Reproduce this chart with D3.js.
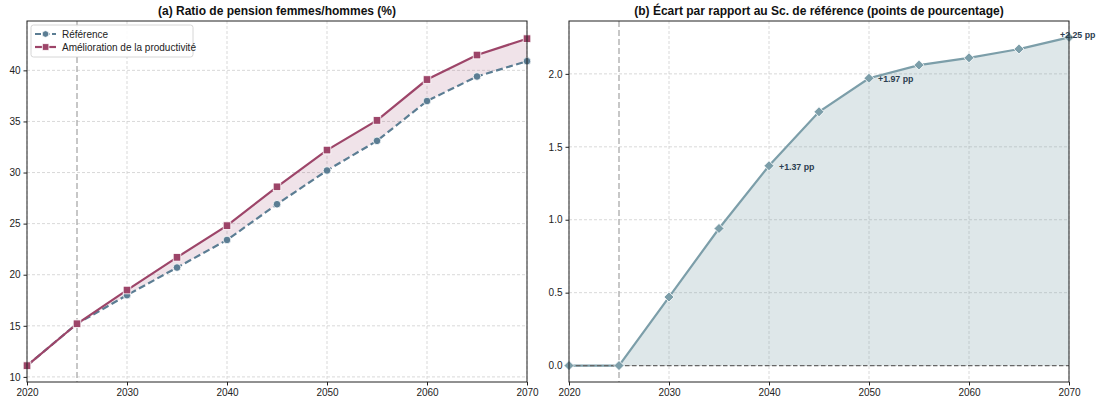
<!DOCTYPE html>
<html><head><meta charset="utf-8">
<script src="https://cdn.jsdelivr.net/npm/d3@7"></script>
<style>
body{margin:0;background:#fff;}
svg{font-family:"Liberation Sans",Arial,sans-serif;}
</style></head>
<body><svg id="c" width="1097" height="401"></svg>
<script>
const years = [2020,2025,2030,2035,2040,2045,2050,2055,2060,2065,2070];
const reference = [11.1,15.2,18.0,20.7,23.4,26.9,30.2,33.1,37.0,39.4,40.9];
const productivity = [11.1,15.2,18.5,21.7,24.8,28.6,32.2,35.1,39.1,41.5,43.1];
const gap = [0,0,0.47,0.94,1.37,1.74,1.97,2.06,2.11,2.17,2.25];
const xTicks = [2020,2030,2040,2050,2060,2070];
const leftYTicks = [10,15,20,25,30,35,40];
const rightYTicks = [0,0.5,1.0,1.5,2.0];
const seriesNames = ["Référence","Amélioration de la productivité"];
const titles = ["(a) Ratio de pension femmes/hommes (%)","(b) Écart par rapport au Sc. de référence (points de pourcentage)"];
const annotations = [{year:2040,value:1.37,label:"+1.37 pp"},{year:2050,value:1.97,label:"+1.97 pp"},{year:2070,value:2.25,label:"+2.25 pp"}];
const policyYear = 2025;

const cRef="#5b7d93", cProd="#9d4569", cGap="#7c9ea9";
const svg=d3.select("#c");
const pTop=21,pBottom=382;

function panel(x0,x1,ydom,yticks,fmt,title){
  const g=svg.append("g");
  const x=d3.scaleLinear().domain([2020,2070]).range([x0,x1]);
  const y=d3.scaleLinear().domain(ydom).range([pBottom,pTop]);
  g.selectAll(".gx").data(xTicks).enter().append("line")
    .attr("x1",d=>x(d)).attr("x2",d=>x(d)).attr("y1",pTop).attr("y2",pBottom)
    .attr("stroke","#cfcfcf").attr("stroke-width",0.8).attr("stroke-dasharray","3,2");
  g.selectAll(".gy").data(yticks).enter().append("line")
    .attr("y1",d=>y(d)).attr("y2",d=>y(d)).attr("x1",x0).attr("x2",x1)
    .attr("stroke","#cfcfcf").attr("stroke-width",0.8).attr("stroke-dasharray","3,2");
  const ax=g.append("g").attr("transform",`translate(0,${pBottom})`)
    .call(d3.axisBottom(x).tickValues(xTicks).tickFormat(d3.format("d")).tickSize(3.5).tickPadding(3.5));
  const ay=g.append("g").attr("transform",`translate(${x0},0)`)
    .call(d3.axisLeft(y).tickValues(yticks).tickFormat(fmt).tickSize(3.5).tickPadding(3));
  [ax,ay].forEach(a=>{a.select(".domain").remove();a.selectAll("text").attr("font-size",10).attr("fill","#222").style("font-family","Liberation Sans, Arial, sans-serif");a.selectAll("line").attr("stroke","#222");});
  g.append("text").attr("x",(x0+x1)/2).attr("y",15).attr("text-anchor","middle")
    .attr("font-size",12).attr("font-weight","bold").attr("fill","#111").text(title);
  return {g,x,y};
}
function frame(p,x0,x1){
  p.g.append("rect").attr("x",x0).attr("y",pTop).attr("width",x1-x0).attr("height",pBottom-pTop)
    .attr("fill","none").attr("stroke","#222").attr("stroke-width",1);
}

// Panel A
const A=panel(27,527,[9.5,44.83],leftYTicks,d3.format("d"),titles[0]);
const ptsA=years.map((yr,i)=>({yr,r:reference[i],p:productivity[i]}));
A.g.append("path").datum(ptsA)
  .attr("d",d3.area().x(d=>A.x(d.yr)).y0(d=>A.y(d.r)).y1(d=>A.y(d.p)))
  .attr("fill",cProd).attr("fill-opacity",0.15);
A.g.append("line").attr("x1",A.x(policyYear)).attr("x2",A.x(policyYear)).attr("y1",pTop).attr("y2",pBottom)
  .attr("stroke","#aaaaaa").attr("stroke-width",1.3).attr("stroke-dasharray","6,3");
A.g.append("path").datum(ptsA).attr("d",d3.line().x(d=>A.x(d.yr)).y(d=>A.y(d.r)))
  .attr("fill","none").attr("stroke",cRef).attr("stroke-width",2.2).attr("stroke-dasharray","7,3.5");
A.g.append("path").datum(ptsA).attr("d",d3.line().x(d=>A.x(d.yr)).y(d=>A.y(d.p)))
  .attr("fill","none").attr("stroke",cProd).attr("stroke-width",2.2);
A.g.selectAll(".mr").data(ptsA).enter().append("circle")
  .attr("cx",d=>A.x(d.yr)).attr("cy",d=>A.y(d.r)).attr("r",3.8)
  .attr("fill",cRef).attr("stroke","#fff").attr("stroke-width",0.8);
A.g.selectAll(".mp").data(ptsA).enter().append("rect")
  .attr("x",d=>A.x(d.yr)-3.8).attr("y",d=>A.y(d.p)-3.8).attr("width",7.6).attr("height",7.6)
  .attr("fill",cProd).attr("stroke","#fff").attr("stroke-width",0.8);
frame(A,27,527);
const lg=A.g.append("g");
lg.append("rect").attr("x",31).attr("y",25).attr("width",162).attr("height",32).attr("rx",2.5)
  .attr("fill","#fff").attr("fill-opacity",0.9).attr("stroke","#cccccc").attr("stroke-width",0.8);
[[cRef,"6,2.5","circle"],[cProd,null,"rect"]].forEach((s,i)=>{
  const yy=34+i*13;
  const ln=lg.append("line").attr("x1",35).attr("x2",56).attr("y1",yy).attr("y2",yy).attr("stroke",s[0]).attr("stroke-width",2.2);
  if(s[1]) ln.attr("stroke-dasharray",s[1]);
  if(s[2]==="circle") lg.append("circle").attr("cx",45.5).attr("cy",yy).attr("r",3.3).attr("fill",s[0]).attr("stroke","#fff").attr("stroke-width",0.8);
  else lg.append("rect").attr("x",42.3).attr("y",yy-3.3).attr("width",6.6).attr("height",6.6).attr("fill",s[0]).attr("stroke","#fff").attr("stroke-width",0.8);
  lg.append("text").attr("x",62).attr("y",yy+3.5).attr("font-size",10).attr("fill","#222").text(seriesNames[i]);
});

// Panel B
const B=panel(569,1069,[-0.1125,2.3625],rightYTicks,d3.format(".1f"),titles[1]);
const ptsB=years.map((yr,i)=>({yr,v:gap[i]}));
B.g.append("path").datum(ptsB)
  .attr("d",d3.area().x(d=>B.x(d.yr)).y0(B.y(0)).y1(d=>B.y(d.v)))
  .attr("fill",cGap).attr("fill-opacity",0.25);
B.g.append("line").attr("x1",B.x(policyYear)).attr("x2",B.x(policyYear)).attr("y1",pTop).attr("y2",pBottom)
  .attr("stroke","#aaaaaa").attr("stroke-width",1.3).attr("stroke-dasharray","6,3");
B.g.append("path").datum(ptsB).attr("d",d3.line().x(d=>B.x(d.yr)).y(d=>B.y(d.v)))
  .attr("fill","none").attr("stroke",cGap).attr("stroke-width",2.2);
B.g.append("line").attr("x1",569).attr("x2",1069).attr("y1",B.y(0)).attr("y2",B.y(0))
  .attr("stroke","#666").attr("stroke-width",1.2).attr("stroke-dasharray","4.5,2.5");
B.g.selectAll(".md").data(ptsB).enter().append("path")
  .attr("transform",d=>`translate(${B.x(d.yr)},${B.y(d.v)})`)
  .attr("d","M0,-5L5,0L0,5L-5,0Z")
  .attr("fill",cGap).attr("stroke","#fff").attr("stroke-width",0.8);
frame(B,569,1069);
const offs={2040:[10,1],2050:[9,1],2070:[-9,-2]};
B.g.selectAll(".an").data(annotations).enter().append("text")
  .attr("x",d=>B.x(d.year)+offs[d.year][0]).attr("y",d=>B.y(d.value)+offs[d.year][1])
  .attr("dy","0.35em").attr("font-size",8.8).attr("font-weight","bold").attr("fill","#2c3e50")
  .text(d=>d.label);
</script></body></html>
